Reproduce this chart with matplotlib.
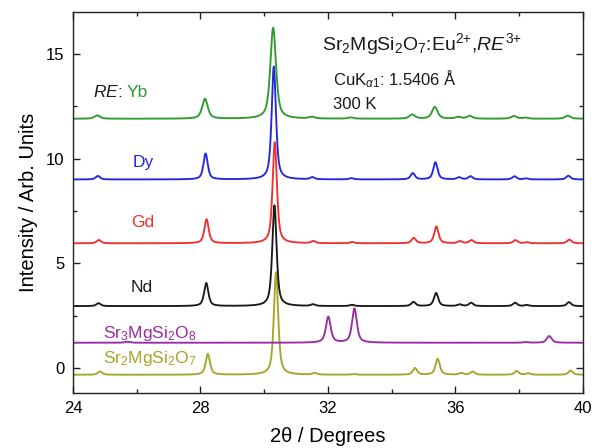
import numpy as np
import matplotlib
matplotlib.use("Agg")
from matplotlib import pyplot as plt

plt.rcParams['font.family'] = ['Liberation Sans', 'DejaVu Sans']
plt.rcParams['mathtext.fontset'] = 'custom'
plt.rcParams['mathtext.rm'] = 'Liberation Sans'
plt.rcParams['mathtext.it'] = 'Liberation Sans:italic'
plt.rcParams['mathtext.bf'] = 'Liberation Sans:bold'

# reflections of Sr2MgSi2O7 (2theta, deg)
ref_pos = [24.80, 28.18, 30.32, 31.53, 32.75, 34.68, 35.39, 36.13, 36.49, 37.87, 38.23, 39.56]

# peak heights above baseline for each pattern
h_yb = [0.16, 0.95, 4.35, 0.08, 0.06, 0.20, 0.56, 0.08, 0.13, 0.13, 0.05, 0.15]
h_dy = [0.17, 1.24, 5.40, 0.10, 0.06, 0.30, 0.82, 0.10, 0.15, 0.15, 0.05, 0.18]
h_gd = [0.16, 1.15, 4.83, 0.10, 0.06, 0.25, 0.80, 0.10, 0.15, 0.15, 0.05, 0.18]
h_nd = [0.14, 1.10, 4.81, 0.08, 0.06, 0.20, 0.63, 0.08, 0.16, 0.16, 0.05, 0.19]
h_ref = [0.16, 1.00, 4.90, 0.08, 0.03, 0.32, 0.76, 0.08, 0.15, 0.18, 0.07, 0.20]

# Sr3MgSi2O8 reference pattern
pos_38 = [25.70, 32.01, 32.83, 38.20, 38.94]
h_38 = [0.05, 1.24, 1.63, 0.03, 0.32]

names = ['Yb', 'Dy', 'Gd', 'Nd']
heights = [h_yb, h_dy, h_gd, h_nd]
offsets = [11.9, 9.0, 5.95, 2.95]
shifts = [-0.04, -0.02, 0.01, 0.0]
fwhm = [0.21, 0.16, 0.16, 0.16]
colors = ['#2f9a2f', '#2626dc', '#f03030', '#1a1a1a']

off_38, off_ref = 1.2, -0.33
shift_ref, fwhm_ref, fwhm_38 = 0.05, 0.16, 0.18
c_38, c_ref = '#9a2aa6', '#a5a52a'


def profile(x, pos, amp, w, eta=0.65):
    y = np.zeros_like(x)
    for p, a in zip(pos, amp):
        d = (x - p) / (w / 2)
        lor = 1 / (1 + d ** 2)
        gau = np.exp(-np.log(2) * d ** 2)
        y += a * (eta * lor + (1 - eta) * gau)
    return y


tt = np.linspace(24, 40, 3201)

fig = plt.figure(figsize=(5.92, 4.48), dpi=100)
ax = fig.add_axes([0.1233, 0.1228, 0.8615, 0.8504])

lw = 1.35
ax.plot(tt, off_ref + profile(tt, np.array(ref_pos) + shift_ref, h_ref, fwhm_ref), color=c_ref, lw=lw)
ax.plot(tt, off_38 + profile(tt, pos_38, h_38, fwhm_38), color=c_38, lw=lw)
for h, off, s, w, c in list(zip(heights, offsets, shifts, fwhm, colors))[::-1]:
    ax.plot(tt, off + profile(tt, np.array(ref_pos) + s, h, w), color=c, lw=lw)

ax.set_xlim(24, 40)
ax.set_ylim(-1.2, 17)
ax.set_xticks([24, 28, 32, 36, 40])
ax.set_xticks([26, 30, 34, 38], minor=True)
ax.set_yticks([0, 5, 10, 15])
ax.set_yticks([2.5, 7.5, 12.5], minor=True)
ax.tick_params(which='both', direction='in', top=True, right=True, labelsize=12, width=1, color='#222222')
ax.tick_params(which='major', length=5, pad=6)
ax.tick_params(which='minor', length=3)
for sp in ax.spines.values():
    sp.set_linewidth(1.0)
    sp.set_color('#222222')

ax.set_xlabel('2θ / Degrees', fontsize=14.5, labelpad=8)
ax.set_ylabel('Intensity / Arb. Units', fontsize=14.5, labelpad=6)

# sample labels
fs = 12.5
t = ax.text(24.62, 13.16, '$\\mathit{RE}$:', fontsize=fs, va='center', color='#1a1a1a')
ax.annotate('Yb', xy=(1, 0), xycoords=t, xytext=(3.5, 0), textcoords='offset points',
            va='bottom', fontsize=fs, color=colors[0])
ax.text(25.88, 9.81, 'Dy', fontsize=fs, va='center', color=colors[1])
ax.text(25.82, 6.95, 'Gd', fontsize=fs, va='center', color=colors[2])
ax.text(25.82, 3.86, 'Nd', fontsize=fs, va='center', color=colors[3])
ax.text(24.94, 1.45, 'Sr$_3$MgSi$_2$O$_8$', fontsize=fs, va='baseline', color=c_38)
ax.text(24.94, 0.22, 'Sr$_2$MgSi$_2$O$_7$', fontsize=fs, va='baseline', color=c_ref)

ax.text(31.81, 15.2, 'Sr$_2$MgSi$_2$O$_7$:Eu$^{2{+}}$,$\\mathit{RE}^{3{+}}$', fontsize=14, va='baseline', color='#1a1a1a')
ax.text(32.16, 13.8, 'CuK$_{\\alpha 1}$: 1.5406 Å', fontsize=12, va='center', color='#1a1a1a')
ax.text(32.16, 12.6, '300 K', fontsize=12, va='center', color='#1a1a1a')

fig.savefig('out.png', dpi=100)
